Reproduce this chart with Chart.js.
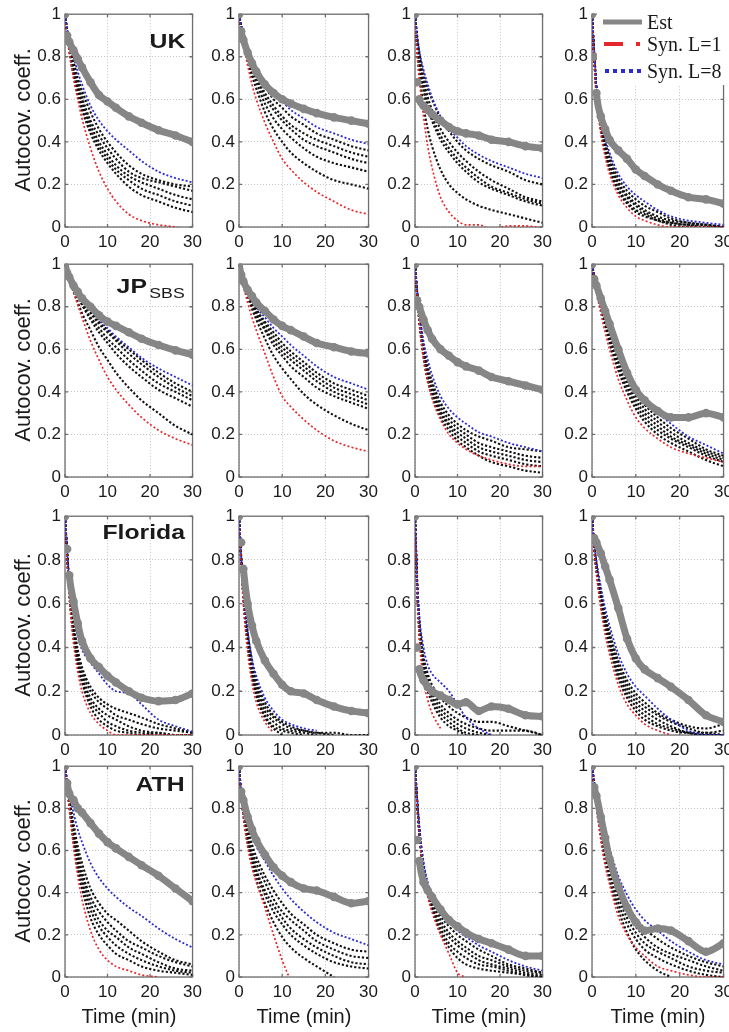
<!DOCTYPE html>
<html><head><meta charset="utf-8">
<script src="https://cdn.jsdelivr.net/npm/chart.js@4.4.1/dist/chart.umd.min.js"></script>
<style>
html,body{margin:0;padding:0;background:#fff;}
body{width:729px;height:1032px;position:relative;overflow:hidden;font-family:'Liberation Sans',Arial,sans-serif;color:#1a1a1a;}
canvas{position:absolute;}
.yl{position:absolute;font-size:22px;line-height:22px;white-space:nowrap;transform:translate(-50%,-50%) rotate(-90deg);}
.ttl{position:absolute;font-weight:bold;font-size:21px;line-height:21px;white-space:nowrap;transform:scaleX(1.18);transform-origin:right center;}
.ttl span{font-weight:normal;font-size:15px;position:relative;top:5px;margin-left:2px;}
.xl{position:absolute;font-size:20px;line-height:20px;white-space:nowrap;transform:translateX(-50%);}
#legend{position:absolute;left:597px;top:13px;width:128px;height:72px;background:#fff;}
.lt{position:absolute;left:50px;font-family:'Liberation Serif','Times New Roman',serif;font-size:20px;line-height:20px;white-space:nowrap;}
</style></head>
<body>
<script>
// ---- time axis (minutes) of the sampled points ----
const XS = [0,0.5,1,2,3,4,6,8,10,12,15,18,22,26,30];
const X_TICKS = [0,10,20,30];
const Y_TICKS = [0,0.2,0.4,0.6,0.8,1];
const ROW_NAMES = ['UK','JP','Florida','ATH'];

// ---- UK ----
const UK1_est = [1,0.9,0.87,0.83,0.79,0.75,0.68,0.62,0.59,0.56,0.52,0.49,0.455,0.43,0.4];
const UK1_l1  = [1,0.9,0.82,0.7,0.6,0.51,0.37,0.26,0.18,0.12,0.06,0.03,0.01,0.0,-0.02];
const UK1_l8  = [1,0.93,0.88,0.8,0.73,0.67,0.57,0.5,0.45,0.41,0.36,0.31,0.26,0.23,0.21];
const UK1_mid = [
 [1,0.93,0.87,0.78,0.7,0.64,0.54,0.46,0.40,0.35,0.29,0.25,0.22,0.20,0.19],
 [1,0.92,0.86,0.76,0.68,0.61,0.5,0.43,0.37,0.32,0.26,0.23,0.21,0.19,0.17],
 [1,0.92,0.85,0.74,0.66,0.59,0.48,0.4,0.34,0.29,0.24,0.21,0.18,0.15,0.13],
 [1,0.91,0.84,0.73,0.64,0.57,0.46,0.38,0.32,0.27,0.22,0.18,0.15,0.12,0.10],
 [1,0.9,0.83,0.71,0.62,0.55,0.44,0.36,0.3,0.25,0.19,0.15,0.12,0.09,0.07]];

const UK2_est = [1,0.92,0.88,0.82,0.77,0.73,0.67,0.63,0.6,0.58,0.555,0.535,0.515,0.5,0.485];
const UK2_l1  = [1,0.92,0.86,0.76,0.67,0.6,0.49,0.4,0.32,0.27,0.21,0.165,0.12,0.08,0.06];
const UK2_l8  = [1,0.95,0.91,0.84,0.79,0.75,0.68,0.63,0.59,0.55,0.51,0.47,0.44,0.41,0.39];
const UK2_mid = [
 [1,0.95,0.9,0.83,0.78,0.73,0.66,0.6,0.56,0.52,0.48,0.44,0.41,0.38,0.36],
 [1,0.94,0.89,0.82,0.76,0.71,0.63,0.57,0.52,0.48,0.44,0.41,0.38,0.35,0.33],
 [1,0.94,0.89,0.81,0.75,0.7,0.61,0.55,0.5,0.46,0.41,0.38,0.35,0.32,0.30],
 [1,0.93,0.88,0.8,0.73,0.68,0.58,0.51,0.46,0.42,0.37,0.33,0.3,0.28,0.26],
 [1,0.93,0.87,0.78,0.71,0.65,0.54,0.46,0.4,0.35,0.3,0.26,0.22,0.2,0.18]];

const UK3_est = [1,0.68,0.6,0.57,0.55,0.53,0.5,0.47,0.45,0.44,0.43,0.41,0.4,0.38,0.37];
const UK3_l1  = [1,0.82,0.7,0.52,0.38,0.28,0.14,0.07,0.03,0.01,0.01,-0.01,0.005,0.005,-0.005];
const UK3_l8  = [1,0.9,0.83,0.74,0.67,0.61,0.52,0.46,0.42,0.38,0.34,0.31,0.28,0.25,0.23];
const UK3_mid = [
 [1,0.9,0.82,0.72,0.65,0.6,0.51,0.45,0.4,0.36,0.32,0.29,0.26,0.22,0.2],
 [1,0.88,0.8,0.69,0.61,0.55,0.46,0.4,0.35,0.31,0.26,0.22,0.18,0.14,0.12],
 [1,0.87,0.78,0.66,0.58,0.52,0.43,0.37,0.32,0.28,0.23,0.19,0.16,0.13,0.11],
 [1,0.86,0.77,0.64,0.56,0.5,0.41,0.35,0.3,0.26,0.21,0.18,0.15,0.12,0.1],
 [1,0.83,0.72,0.57,0.46,0.38,0.27,0.2,0.16,0.13,0.1,0.08,0.06,0.04,0.02]];

const UK4_est = [1,0.8,0.63,0.52,0.46,0.41,0.36,0.32,0.27,0.24,0.2,0.17,0.14,0.13,0.11];
const UK4_l1  = [1,0.78,0.62,0.44,0.33,0.25,0.15,0.09,0.05,0.03,0.01,0.0,0.0,0.0,0.0];
const UK4_l8  = [1,0.83,0.68,0.53,0.42,0.35,0.25,0.19,0.15,0.12,0.08,0.05,0.03,0.02,0.01];
const UK4_mid = [
 [1,0.82,0.67,0.51,0.4,0.33,0.23,0.17,0.13,0.1,0.07,0.04,0.02,0.01,0.0],
 [1,0.81,0.66,0.5,0.39,0.31,0.21,0.15,0.11,0.08,0.05,0.03,0.02,0.01,0.0],
 [1,0.8,0.65,0.48,0.37,0.3,0.2,0.14,0.1,0.07,0.04,0.02,0.01,0.0,0.0],
 [1,0.8,0.64,0.47,0.36,0.28,0.18,0.12,0.08,0.06,0.03,0.02,0.01,0.01,0.0],
 [1,0.79,0.63,0.46,0.35,0.27,0.17,0.11,0.07,0.05,0.03,0.01,0.0,0.0,0.0]];

// ---- JP (SBS) ----
const JP1_est = [1,0.96,0.94,0.9,0.87,0.84,0.8,0.76,0.73,0.71,0.68,0.65,0.62,0.595,0.575];
const JP1_l1  = [1,0.97,0.94,0.87,0.81,0.75,0.64,0.55,0.47,0.41,0.34,0.28,0.22,0.18,0.15];
const JP1_l8  = [1,0.97,0.95,0.91,0.87,0.84,0.79,0.74,0.7,0.66,0.61,0.56,0.51,0.47,0.43];
const JP1_mid = [
 [1,0.97,0.95,0.9,0.86,0.83,0.78,0.73,0.69,0.65,0.6,0.55,0.49,0.44,0.40],
 [1,0.97,0.94,0.9,0.86,0.82,0.77,0.72,0.68,0.64,0.58,0.53,0.47,0.42,0.38],
 [1,0.97,0.94,0.89,0.85,0.81,0.75,0.7,0.65,0.61,0.55,0.5,0.44,0.4,0.36],
 [1,0.97,0.94,0.89,0.85,0.81,0.74,0.68,0.63,0.58,0.52,0.47,0.41,0.37,0.33],
 [1,0.96,0.93,0.87,0.82,0.77,0.69,0.61,0.55,0.49,0.42,0.36,0.3,0.24,0.2]];

const JP2_est = [1,0.95,0.92,0.88,0.85,0.82,0.78,0.74,0.71,0.69,0.66,0.63,0.61,0.59,0.58];
const JP2_l1  = [1,0.95,0.9,0.82,0.75,0.69,0.58,0.47,0.38,0.33,0.27,0.22,0.17,0.14,0.12];
const JP2_l8  = [1,0.96,0.93,0.88,0.84,0.8,0.75,0.7,0.66,0.62,0.57,0.52,0.47,0.44,0.41];
const JP2_mid = [
 [1,0.96,0.93,0.88,0.83,0.79,0.73,0.68,0.63,0.59,0.54,0.49,0.44,0.41,0.38],
 [1,0.96,0.92,0.87,0.82,0.78,0.72,0.66,0.61,0.57,0.52,0.47,0.42,0.39,0.36],
 [1,0.96,0.92,0.86,0.82,0.77,0.7,0.64,0.59,0.55,0.5,0.45,0.4,0.37,0.34],
 [1,0.95,0.92,0.86,0.81,0.76,0.69,0.62,0.57,0.52,0.47,0.42,0.38,0.35,0.32],
 [1,0.95,0.91,0.85,0.79,0.74,0.65,0.57,0.51,0.46,0.39,0.34,0.29,0.25,0.22]];

const JP3_est = [1,0.83,0.8,0.74,0.69,0.65,0.6,0.57,0.54,0.52,0.5,0.47,0.45,0.43,0.41];
const JP3_l1  = [1,0.85,0.73,0.56,0.45,0.37,0.27,0.2,0.16,0.13,0.1,0.08,0.06,0.05,0.05];
const JP3_l8  = [1,0.88,0.78,0.64,0.55,0.48,0.38,0.32,0.28,0.25,0.21,0.19,0.16,0.14,0.12];
const JP3_mid = [
 [1,0.87,0.77,0.62,0.52,0.45,0.35,0.29,0.25,0.22,0.19,0.17,0.14,0.13,0.12],
 [1,0.87,0.76,0.6,0.5,0.43,0.33,0.27,0.23,0.2,0.16,0.14,0.12,0.1,0.09],
 [1,0.86,0.75,0.59,0.48,0.41,0.31,0.25,0.21,0.18,0.14,0.12,0.1,0.08,0.07],
 [1,0.86,0.74,0.58,0.47,0.4,0.3,0.24,0.19,0.16,0.12,0.1,0.08,0.06,0.05],
 [1,0.85,0.73,0.56,0.45,0.38,0.28,0.22,0.17,0.14,0.1,0.07,0.05,0.03,0.02]];

const JP4_est = [1,0.93,0.9,0.84,0.78,0.72,0.6,0.49,0.41,0.36,0.31,0.28,0.28,0.3,0.28];
const JP4_l1  = [1,0.93,0.87,0.77,0.68,0.6,0.46,0.36,0.28,0.23,0.18,0.14,0.11,0.09,0.07];
const JP4_l8  = [1,0.95,0.91,0.84,0.77,0.71,0.6,0.5,0.42,0.36,0.3,0.25,0.19,0.15,0.11];
const JP4_mid = [
 [1,0.95,0.9,0.83,0.76,0.7,0.58,0.48,0.4,0.34,0.28,0.23,0.18,0.13,0.1],
 [1,0.94,0.9,0.82,0.75,0.68,0.56,0.46,0.38,0.32,0.26,0.21,0.16,0.12,0.09],
 [1,0.94,0.89,0.81,0.73,0.66,0.54,0.44,0.36,0.3,0.24,0.19,0.15,0.11,0.08],
 [1,0.94,0.89,0.8,0.72,0.65,0.52,0.42,0.34,0.28,0.22,0.18,0.14,0.1,0.07],
 [1,0.93,0.88,0.79,0.71,0.63,0.5,0.4,0.32,0.26,0.2,0.16,0.12,0.08,0.05]];

// ---- Florida ----
const FL1_est = [1,0.85,0.73,0.61,0.51,0.43,0.35,0.31,0.27,0.24,0.2,0.17,0.155,0.16,0.19];
const FL1_l1  = [1,0.8,0.63,0.42,0.29,0.2,0.1,0.05,0.02,0.0,0.0,0.0,0.0,0.0,0.0];
const FL1_l8  = [1,0.85,0.72,0.56,0.45,0.39,0.33,0.28,0.23,0.2,0.19,0.14,0.07,0.04,0.015];
const FL1_mid = [
 [1,0.84,0.7,0.52,0.39,0.31,0.22,0.17,0.14,0.12,0.1,0.08,0.05,0.03,0.01],
 [1,0.83,0.68,0.5,0.37,0.29,0.2,0.15,0.12,0.09,0.07,0.05,0.03,0.02,0.01],
 [1,0.83,0.67,0.48,0.35,0.27,0.17,0.12,0.09,0.07,0.04,0.02,0.01,0.0,0.0],
 [1,0.82,0.66,0.46,0.33,0.25,0.15,0.1,0.06,0.04,0.02,0.01,0.0,0.0,0.0],
 [1,0.82,0.65,0.45,0.32,0.24,0.13,0.07,0.04,0.02,0.01,0.0,0.01,0.0,0.0]];

const FL2_est = [1,0.88,0.76,0.6,0.5,0.43,0.34,0.28,0.23,0.2,0.19,0.16,0.13,0.11,0.1];
const FL2_l1  = [1,0.78,0.6,0.38,0.24,0.15,0.06,0.01,null,null,null,null,null,null,null];
const FL2_l8  = [1,0.82,0.68,0.48,0.35,0.27,0.17,0.11,0.07,0.05,0.03,0.02,null,null,null];
const FL2_mid = [
 [1,0.82,0.67,0.47,0.34,0.25,0.15,0.09,0.06,0.04,0.02,0.01,0.01,0.0,0.0],
 [1,0.81,0.66,0.45,0.32,0.23,0.13,0.08,0.05,0.03,0.02,0.01,0.0,null,null],
 [1,0.81,0.65,0.44,0.3,0.21,0.11,0.06,0.03,0.02,0.01,0.0,null,null,null],
 [1,0.8,0.64,0.42,0.28,0.19,0.09,0.04,0.02,0.01,0.0,null,null,null,null],
 [1,0.8,0.63,0.41,0.27,0.18,0.08,0.03,0.0,null,null,null,null,null,null]];

const FL3_est = [1,0.4,0.3,0.25,0.22,0.2,0.18,0.16,0.14,0.15,0.11,0.13,0.12,0.09,0.085];
const FL3_l1  = [1,0.65,0.45,0.25,0.16,0.1,0.03,null,null,null,null,null,null,null,null];
const FL3_l8  = [1,0.72,0.55,0.4,0.32,0.28,0.24,0.2,0.14,0.08,0.03,0.0,null,null,null];
const FL3_mid = [
 [1,0.7,0.53,0.36,0.28,0.23,0.17,0.13,0.1,0.08,0.06,0.06,0.04,0.02,0.0],
 [1,0.7,0.52,0.34,0.26,0.21,0.14,0.1,0.07,0.05,0.03,0.02,0.02,0.02,0.0],
 [1,0.69,0.5,0.32,0.24,0.19,0.12,0.08,0.05,0.03,0.01,0.0,null,null,null],
 [1,0.68,0.49,0.3,0.22,0.17,0.1,0.06,0.03,0.01,0.0,null,null,null,null],
 [1,0.67,0.47,0.28,0.2,0.15,0.08,0.04,0.02,0.0,null,null,null,null,null]];

const FL4_est = [1,0.9,0.88,0.83,0.77,0.71,0.58,0.44,0.35,0.3,0.26,0.22,0.16,0.09,0.06];
const FL4_l1  = [1,0.85,0.74,0.58,0.46,0.37,0.23,0.14,0.09,0.05,0.02,0.0,null,null,null];
const FL4_l8  = [1,0.88,0.8,0.68,0.58,0.5,0.37,0.28,0.22,0.18,0.12,0.07,0.02,0.0,0.0];
const FL4_mid = [
 [1,0.87,0.78,0.66,0.55,0.47,0.34,0.25,0.19,0.15,0.1,0.07,0.04,0.03,0.05],
 [1,0.87,0.78,0.65,0.54,0.45,0.32,0.23,0.17,0.13,0.09,0.06,0.03,0.01,0.02],
 [1,0.86,0.77,0.64,0.53,0.44,0.3,0.21,0.15,0.11,0.07,0.04,0.01,0.0,0.0],
 [1,0.86,0.76,0.62,0.51,0.42,0.28,0.19,0.13,0.09,0.05,0.03,0.01,0.0,0.0],
 [1,0.85,0.75,0.6,0.49,0.4,0.26,0.17,0.11,0.07,0.04,0.02,0.01,0.01,0.0]];

// ---- ATH ----
const ATH1_est = [1,0.92,0.87,0.84,0.8,0.78,0.73,0.68,0.64,0.61,0.57,0.53,0.48,0.42,0.36];
const ATH1_l1  = [1,0.9,0.8,0.62,0.48,0.37,0.22,0.13,0.08,0.05,0.03,0.01,0.0,null,null];
const ATH1_l8  = [1,0.93,0.87,0.78,0.7,0.64,0.54,0.47,0.42,0.38,0.33,0.29,0.23,0.18,0.14];
const ATH1_mid = [
 [1,0.92,0.85,0.73,0.62,0.54,0.42,0.35,0.3,0.27,0.22,0.17,0.12,0.08,0.06],
 [1,0.92,0.84,0.7,0.59,0.5,0.38,0.31,0.26,0.22,0.17,0.14,0.1,0.07,0.05],
 [1,0.91,0.83,0.68,0.57,0.48,0.35,0.27,0.22,0.19,0.14,0.11,0.07,0.04,0.03],
 [1,0.91,0.82,0.66,0.54,0.45,0.32,0.24,0.19,0.15,0.11,0.08,0.05,0.03,0.02],
 [1,0.9,0.81,0.64,0.51,0.42,0.28,0.2,0.15,0.11,0.08,0.05,0.03,0.02,0.01]];

const ATH2_est = [1,0.88,0.84,0.76,0.7,0.65,0.58,0.52,0.48,0.45,0.42,0.41,0.38,0.35,0.36];
const ATH2_l1  = [1,0.86,0.76,0.62,0.52,0.45,0.33,0.2,0.08,-0.02,null,null,null,null,null];
const ATH2_l8  = [1,0.88,0.82,0.74,0.67,0.62,0.55,0.48,0.42,0.37,0.31,0.26,0.21,0.18,0.15];
const ATH2_mid = [
 [1,0.88,0.81,0.71,0.63,0.57,0.48,0.41,0.35,0.3,0.25,0.2,0.16,0.13,0.12],
 [1,0.87,0.8,0.69,0.6,0.54,0.45,0.37,0.31,0.27,0.22,0.17,0.13,0.1,0.09],
 [1,0.87,0.79,0.67,0.58,0.51,0.41,0.34,0.28,0.23,0.18,0.14,0.1,0.07,0.06],
 [1,0.86,0.78,0.65,0.56,0.49,0.39,0.31,0.25,0.2,0.15,0.11,0.07,0.05,0.04],
 [1,0.86,0.77,0.63,0.54,0.46,0.35,0.26,0.19,0.14,0.09,0.05,0.0,null,null]];

const ATH3_est = [1,0.65,0.55,0.45,0.41,0.38,0.32,0.27,0.24,0.21,0.18,0.16,0.13,0.1,0.1];
const ATH3_l1  = [1,0.82,0.68,0.48,0.38,0.31,0.2,0.11,0.02,0.0,null,null,null,null,null];
const ATH3_l8  = [1,0.85,0.72,0.55,0.45,0.39,0.31,0.26,0.22,0.19,0.15,0.12,0.08,0.05,0.03];
const ATH3_mid = [
 [1,0.84,0.71,0.53,0.43,0.37,0.29,0.24,0.2,0.17,0.13,0.1,0.06,0.04,0.02],
 [1,0.84,0.7,0.52,0.42,0.36,0.27,0.21,0.17,0.14,0.1,0.08,0.05,0.03,0.02],
 [1,0.83,0.69,0.51,0.41,0.34,0.25,0.19,0.15,0.12,0.08,0.06,0.04,0.02,0.01],
 [1,0.83,0.69,0.5,0.4,0.33,0.23,0.16,0.12,0.09,0.06,0.05,0.03,0.01,0.0],
 [1,0.82,0.68,0.49,0.39,0.32,0.21,0.14,0.09,0.06,0.04,0.03,0.02,0.01,0.0]];

const ATH4_est = [1,0.9,0.86,0.76,0.66,0.56,0.43,0.33,0.26,0.22,0.23,0.22,0.17,0.12,0.16];
const ATH4_l1  = [1,0.9,0.81,0.65,0.53,0.44,0.29,0.2,0.14,0.1,0.05,0.03,0.01,0.0,0.0];
const ATH4_l8  = [1,0.93,0.87,0.77,0.68,0.61,0.48,0.39,0.32,0.27,0.22,0.17,0.12,0.08,0.06];
const ATH4_mid = [
 [1,0.92,0.86,0.75,0.65,0.57,0.44,0.35,0.28,0.23,0.18,0.14,0.1,0.07,0.05],
 [1,0.92,0.85,0.73,0.62,0.54,0.41,0.31,0.24,0.19,0.14,0.11,0.08,0.05,0.03],
 [1,0.91,0.84,0.71,0.6,0.51,0.38,0.28,0.21,0.16,0.12,0.09,0.05,0.03,0.02],
 [1,0.91,0.83,0.69,0.58,0.49,0.35,0.25,0.18,0.13,0.09,0.06,0.03,0.01,0.0],
 [1,0.9,0.82,0.67,0.55,0.46,0.32,0.21,0.13,0.08,0.03,0.0,null,null,null]];

const PANELS = [
 [UK1_est,UK1_l1,UK1_l8,UK1_mid],[UK2_est,UK2_l1,UK2_l8,UK2_mid],[UK3_est,UK3_l1,UK3_l8,UK3_mid],[UK4_est,UK4_l1,UK4_l8,UK4_mid],
 [JP1_est,JP1_l1,JP1_l8,JP1_mid],[JP2_est,JP2_l1,JP2_l8,JP2_mid],[JP3_est,JP3_l1,JP3_l8,JP3_mid],[JP4_est,JP4_l1,JP4_l8,JP4_mid],
 [FL1_est,FL1_l1,FL1_l8,FL1_mid],[FL2_est,FL2_l1,FL2_l8,FL2_mid],[FL3_est,FL3_l1,FL3_l8,FL3_mid],[FL4_est,FL4_l1,FL4_l8,FL4_mid],
 [ATH1_est,ATH1_l1,ATH1_l8,ATH1_mid],[ATH2_est,ATH2_l1,ATH2_l8,ATH2_mid],[ATH3_est,ATH3_l1,ATH3_l8,ATH3_mid],[ATH4_est,ATH4_l1,ATH4_l8,ATH4_mid]];

// ---- layout (pixels) ----
const COL_L = [65,239,415,592], COL_W = [128,130,128,132];
const ROW_T = [12,262,514,764], ROW_H = [215,215,221,213];
const PAD_L = 45, PAD_R = 14, PAD_T = 12, PAD_B = 26;

Chart.defaults.font.family = "'Liberation Sans', Arial, sans-serif";
Chart.defaults.font.size = 17;
Chart.defaults.color = '#1a1a1a';

const framePlugin = {
  id: 'frame',
  beforeDatasetsDraw(chart) {
    const {ctx, chartArea: a, scales: {x, y}} = chart;
    ctx.save();
    ctx.strokeStyle = '#6e6e6e';
    ctx.lineWidth = 1.3;
    ctx.strokeRect(a.left, a.top, a.right - a.left, a.bottom - a.top);
    ctx.beginPath();
    x.ticks.forEach(t => { const p = x.getPixelForValue(t.value);
      ctx.moveTo(p, a.bottom); ctx.lineTo(p, a.bottom - 3); ctx.moveTo(p, a.top); ctx.lineTo(p, a.top + 3); });
    y.ticks.forEach(t => { const p = y.getPixelForValue(t.value);
      ctx.moveTo(a.left, p); ctx.lineTo(a.left + 3, p); ctx.moveTo(a.right, p); ctx.lineTo(a.right - 3, p); });
    ctx.stroke();
    ctx.restore();
  }
};

function pts(arr) {
  const out = [];
  XS.forEach((x, i) => { if (arr[i] !== null && arr[i] !== undefined) out.push({x: x, y: arr[i]}); });
  return out;
}

function fmtY(v) { return v === 0 ? '0' : v === 1 ? '1' : v.toFixed(1); }

// the first samples of the estimate are sparse: show them as separate circles when they jump
const estSegColor = ctx => (ctx.p0DataIndex <= 1 && Math.abs(ctx.p1.y - ctx.p0.y) > 12) ? 'rgba(0,0,0,0)' : undefined;

PANELS.forEach((p, idx) => {
  const r = Math.floor(idx / 4), c = idx % 4;
  const [est, l1, l8, mids] = p;
  const cv = document.createElement('canvas');
  const w = COL_W[c] + PAD_L + PAD_R, h = ROW_H[r] + PAD_T + PAD_B;
  cv.width = w; cv.height = h;
  cv.style.left = (COL_L[c] - PAD_L) + 'px';
  cv.style.top = (ROW_T[r] - PAD_T) + 'px';
  cv.style.width = w + 'px'; cv.style.height = h + 'px';
  document.body.appendChild(cv);

  const datasets = [
    {label: 'Est', data: pts(est), borderColor: '#868686', backgroundColor: '#868686', borderWidth: 7,
     pointRadius: 4.3, pointBorderWidth: 0, pointBackgroundColor: '#868686', cubicInterpolationMode: 'monotone',
     segment: {borderColor: estSegColor}},
    {label: 'Syn. L=8', data: pts(l8), borderColor: '#2b2bd0', borderWidth: 1.8, borderDash: [2, 2],
     pointRadius: 0, cubicInterpolationMode: 'monotone'},
    {label: 'Syn. L=1', data: pts(l1), borderColor: '#e5262a', borderWidth: 1.7, borderDash: [2, 2.2],
     pointRadius: 0, cubicInterpolationMode: 'monotone'}
  ];
  mids.forEach((m, k) => datasets.push({label: 'Syn. L=' + (k + 2), data: pts(m), borderColor: '#111',
     borderWidth: 2.1, borderDash: [2.2, 2], pointRadius: 0, cubicInterpolationMode: 'monotone'}));

  new Chart(cv, {
    type: 'line',
    data: {datasets},
    options: {
      responsive: false, animation: false, devicePixelRatio: 1, events: [],
      layout: {padding: {left: 0, right: PAD_R, top: PAD_T, bottom: 0}},
      plugins: {legend: {display: false}, tooltip: {enabled: false}},
      scales: {
        x: {type: 'linear', min: 0, max: 30,
            afterBuildTicks: s => { s.ticks = X_TICKS.map(v => ({value: v})); },
            afterFit: s => { s.height = PAD_B; },
            ticks: {padding: 5, maxRotation: 0, autoSkip: false},
            grid: {color: '#c4c4c4', lineWidth: 1, drawTicks: false},
            border: {display: false, dash: [1, 2]}},
        y: {type: 'linear', min: 0, max: 1,
            afterBuildTicks: s => { s.ticks = Y_TICKS.map(v => ({value: v})); },
            afterFit: s => { s.width = PAD_L; },
            ticks: {padding: 4, callback: v => fmtY(v)},
            grid: {color: '#c4c4c4', lineWidth: 1, drawTicks: false},
            border: {display: false, dash: [1, 2]}}
      }
    },
    plugins: [framePlugin]
  });
});

// ---- text labels ----
function addDiv(cls, html, style) {
  const d = document.createElement('div'); d.className = cls; d.innerHTML = html;
  Object.assign(d.style, style); document.body.appendChild(d); return d;
}
ROW_T.forEach((t, r) => addDiv('yl', 'Autocov. coeff.', {left: '23px', top: (t + ROW_H[r] / 2) + 'px'}));
const TITLE_TOP = [30, 275, 521, 773];
ROW_NAMES.forEach((n, r) => addDiv('ttl', n === 'JP' ? 'JP<span>SBS</span>' : n,
  {right: (729 - 185) + 'px', top: TITLE_TOP[r] + 'px'}));
COL_L.forEach((l, c) => addDiv('xl', 'Time (min)', {left: (l + COL_W[c] / 2) + 'px', top: '1006px'}));
</script>
<div id="legend">
  <svg width="128" height="72" style="position:absolute;left:0;top:0">
    <line x1="6" y1="9" x2="45" y2="9" stroke="#868686" stroke-width="5"/>
    <line x1="7" y1="31" x2="26" y2="31" stroke="#e5262a" stroke-width="4"/>
    <rect x="39" y="29" width="4" height="4" fill="#e5262a"/>
    <line x1="8" y1="58" x2="48" y2="58" stroke="#2b2bd0" stroke-width="4" stroke-dasharray="4 4"/>
  </svg>
  <div class="lt" style="top:-1px">Est</div>
  <div class="lt" style="top:21px">Syn. L=1</div>
  <div class="lt" style="top:48px">Syn. L=8</div>
</div>
</body></html>
